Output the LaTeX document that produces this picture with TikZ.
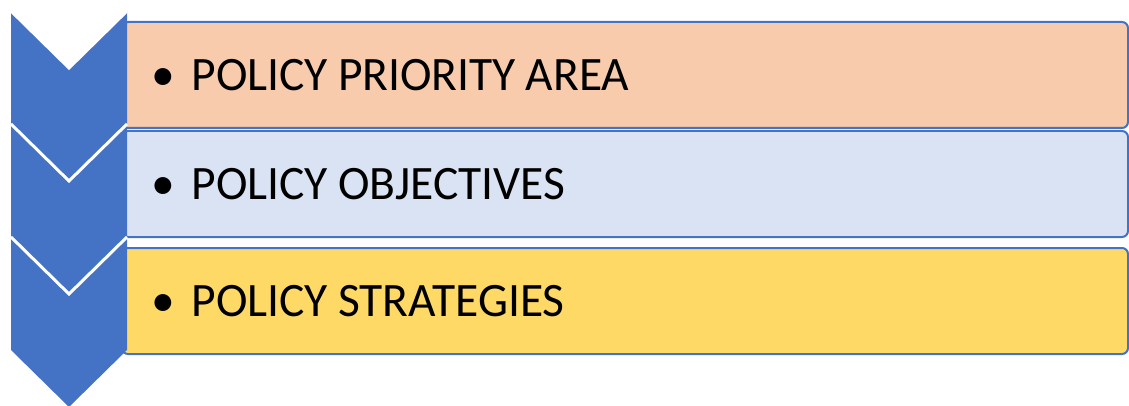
\documentclass[tikz,border=0pt]{standalone}
\usepackage{fontspec}
\setmainfont{Carlito}[FakeStretch=0.99]
\usetikzlibrary{positioning}
\definecolor{chevblue}{HTML}{4472C4}
\definecolor{peach}{HTML}{F8CBAD}
\definecolor{paleblue}{HTML}{DAE3F3}
\definecolor{gold}{HTML}{FFD966}
\tikzstyle{item} = [rectangle, rounded corners=6pt, draw=chevblue, line width=2pt, minimum width=1006pt, minimum height=106pt, text width=948pt, inner xsep=29pt, align=left, font=\fontsize{48}{58}\selectfont]
\tikzstyle{chevron} = [fill=chevblue]
\tikzstyle{notch} = [draw=white, line width=3pt, line join=miter]
\newcommand{\bulletitem}[1]{\spaceskip 10pt\relax\textbullet\hspace{17pt}#1}

\begin{document}
\begin{tikzpicture}[x=1pt, y=-1pt]
    \useasboundingbox (0,0) rectangle (1129,406);

    \node (area) [item, fill=peach, anchor=north west] at (121, 21) {\bulletitem{POLICY PRIORITY AREA}};
    \node (objectives) [item, fill=paleblue, below=1pt of area] {\bulletitem{POLICY OBJECTIVES}};
    \node (strategies) [item, fill=gold, below=9pt of objectives] {\bulletitem{POLICY STRATEGIES}};

    % chevrons down the left side, each with a white notch on top
    \foreach \t in {11, 124, 237} {
        \fill [chevron] (11, \t) -- (69, \t+57) -- (127, \t) -- (127, \t+113)
            -- (69, \t+170) -- (11, \t+113) -- cycle;
        \draw [notch] (11, \t) -- (69, \t+57) -- (127, \t);
    }

\end{tikzpicture}
\end{document}
